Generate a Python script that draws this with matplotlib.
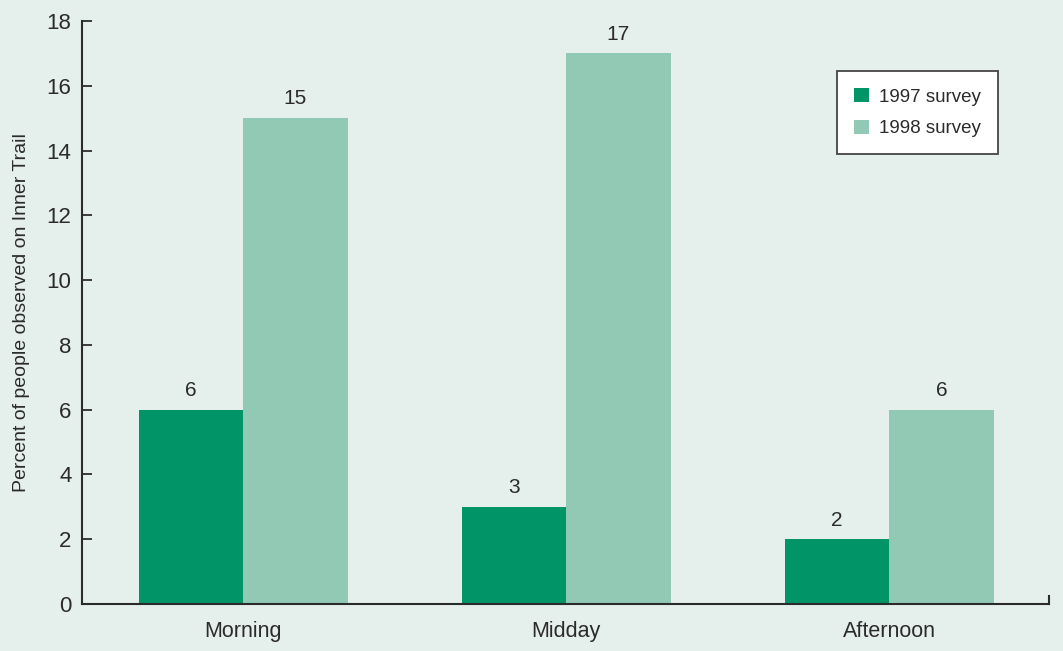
import matplotlib.pyplot as plt
import numpy as np

categories = ["Morning", "Midday", "Afternoon"]
survey_1997 = [6, 3, 2]
survey_1998 = [15, 17, 6]
series_names = ["1997 survey", "1998 survey"]
yticks = [0, 2, 4, 6, 8, 10, 12, 14, 16, 18]

plt.rcParams['font.family'] = ['Liberation Sans', 'DejaVu Sans']

bg = "#e5efeb"
dark = "#009466"
light = "#91c9b5"
ink = "#2b2b2b"

fig = plt.figure(figsize=(10.63, 6.51), dpi=100, facecolor=bg)
ax = fig.add_axes([0.0776, 0.0722, 0.9092, 0.8955], facecolor=bg)

x = np.arange(len(categories))
w = 0.3235
b1 = ax.bar(x - w / 2, survey_1997, w, color=dark, label=series_names[0])
b2 = ax.bar(x + w / 2, survey_1998, w, color=light, label=series_names[1])

for bars, vals in ((b1, survey_1997), (b2, survey_1998)):
    for r, v in zip(bars, vals):
        ax.text(r.get_x() + r.get_width() / 2, v + 0.3, str(v), ha='center', va='bottom',
                fontsize=15, color=ink)

ax.set_xlim(-0.497, 2.495)
ax.set_ylim(0, 18)
ax.set_yticks(yticks)
ax.set_xticks(x)
ax.set_xticklabels(categories)
ax.tick_params(axis='y', direction='in', length=7, width=1.3, colors=ink, labelsize=16, pad=8)
ax.tick_params(axis='x', length=0, labelsize=15.5, colors=ink, pad=12)
for s in ['top', 'right']:
    ax.spines[s].set_visible(False)
for s in ['left', 'bottom']:
    ax.spines[s].set_color(ink)
    ax.spines[s].set_linewidth(1.5)
# small end tick on the right of the x axis
ax.plot([2.495, 2.495], [0, 0.25], color=ink, lw=1.5, clip_on=False)

ax.set_ylabel("Percent of people observed on Inner Trail", fontsize=14, color=ink, labelpad=12)

leg = ax.legend(loc='upper left', bbox_to_anchor=(0.7806, 0.914), borderaxespad=0, fontsize=13.5,
                frameon=True, fancybox=False, framealpha=1, facecolor='white', edgecolor='#444444',
                handlelength=0.8, handleheight=0.8, borderpad=0.9, labelspacing=0.75,
                handletextpad=0.55)
leg.get_frame().set_linewidth(1.3)
for t in leg.get_texts():
    t.set_color(ink)

fig.savefig("out.png", dpi=100, facecolor=bg)
